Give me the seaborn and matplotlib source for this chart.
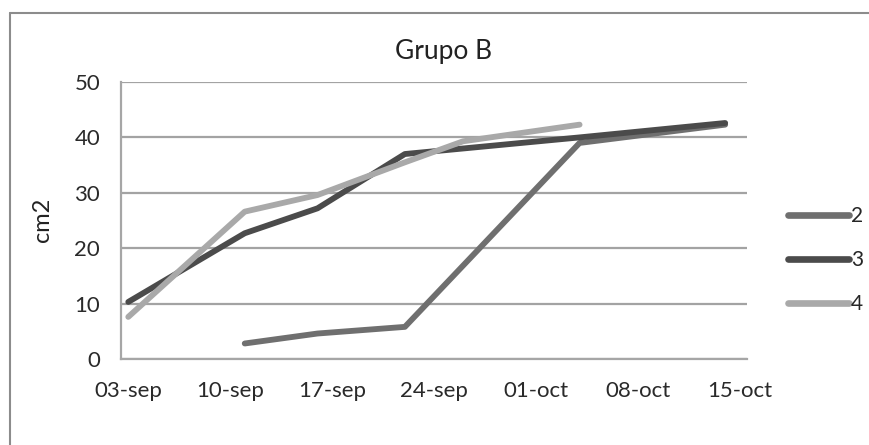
import numpy as np
import pandas as pd
import matplotlib
matplotlib.use('Agg')
import matplotlib.pyplot as plt
import seaborn as sns

dates_2 = ['2013-09-11', '2013-09-16', '2013-09-22', '2013-10-04', '2013-10-14']
vals_2 = [2.8, 4.6, 5.8, 39.0, 42.3]

dates_3 = ['2013-09-03', '2013-09-11', '2013-09-16', '2013-09-22', '2013-10-04', '2013-10-14']
vals_3 = [10.3, 22.7, 27.2, 37.0, 40.0, 42.6]

dates_4 = ['2013-09-03', '2013-09-11', '2013-09-16', '2013-09-22', '2013-09-26', '2013-10-04']
vals_4 = [7.6, 26.6, 29.6, 35.5, 39.3, 42.3]

series_names = ['2', '3', '4']
tick_dates = ['2013-09-03', '2013-09-10', '2013-09-17', '2013-09-24',
              '2013-10-01', '2013-10-08', '2013-10-15']
tick_labels = ['03-sep', '10-sep', '17-sep', '24-sep', '01-oct', '08-oct', '15-oct']

frames = []
for name, ds, vs in zip(series_names, [dates_2, dates_3, dates_4], [vals_2, vals_3, vals_4]):
    frames.append(pd.DataFrame({'fecha': pd.to_datetime(ds), 'cm2': vs, 'serie': name}))
df = pd.concat(frames, ignore_index=True)

sns.set_style('white')
plt.rcParams['font.family'] = ['Lato', 'DejaVu Sans']

fig = plt.figure(figsize=(8.7, 4.45), dpi=100)
ax = fig.add_axes([121 / 870, (445 - 359) / 445, (747 - 121) / 870, (359 - 82) / 445])

palette = {'2': '#6f6f6f', '3': '#4b4b4b', '4': '#a9a9a9'}
sns.lineplot(data=df, x='fecha', y='cm2', hue='serie', palette=palette,
             linewidth=4.2, ax=ax, legend=True, sort=True)
for ln in ax.get_lines():
    ln.set_solid_capstyle('round')
    ln.set_solid_joinstyle('round')

start = pd.Timestamp('2013-09-03') - pd.Timedelta(hours=12)
end = pd.Timestamp('2013-10-15') + pd.Timedelta(hours=12)
ax.set_xlim(start, end)
ax.set_ylim(0, 50)
ax.set_yticks([0, 10, 20, 30, 40, 50])
ax.set_yticklabels(['0', '10', '20', '30', '40', '50'], fontsize=16, color='#2a2a2a')
ax.set_xticks(pd.to_datetime(tick_dates))
ax.set_xticklabels(tick_labels, fontsize=16, color='#2a2a2a')
ax.tick_params(axis='y', length=0, pad=15)
ax.tick_params(axis='x', length=0, pad=16)

ax.grid(axis='y', color='#a3a3a3', linewidth=1.6)
ax.set_axisbelow(True)
for side in ['top', 'right']:
    ax.spines[side].set_visible(False)
for side in ['left', 'bottom']:
    ax.spines[side].set_color('#a6a6a6')
    ax.spines[side].set_linewidth(1.6)

ax.set_xlabel('')
ax.set_ylabel('cm2', fontsize=17, color='#222222')
ax.yaxis.set_label_coords((53 - 121) / 626, (359 - 220) / 277)
fig.text(444 / 870, 1 - 51 / 445, 'Grupo B', ha='center', va='center',
         fontsize=19, color='#222222')

handles, labels = ax.get_legend_handles_labels()
for h in handles:
    h.set_linewidth(4.8)
ax.legend(handles, labels, loc='center left', bbox_to_anchor=(778 / 870, (445 - 260) / 445),
          bbox_transform=fig.transFigure, frameon=False, fontsize=15,
          handlelength=2.9, handletextpad=0.1, labelspacing=1.15, borderpad=0)

# outer chart border (left and top edges visible in the crop)
fig.add_artist(plt.Line2D([10 / 870, 10 / 870], [0, 1 - 13 / 445],
                          transform=fig.transFigure, color='#8c8c8c', linewidth=1.5))
fig.add_artist(plt.Line2D([10 / 870, 1], [1 - 13 / 445, 1 - 13 / 445],
                          transform=fig.transFigure, color='#8c8c8c', linewidth=1.5))

fig.savefig('out.png', dpi=100)
